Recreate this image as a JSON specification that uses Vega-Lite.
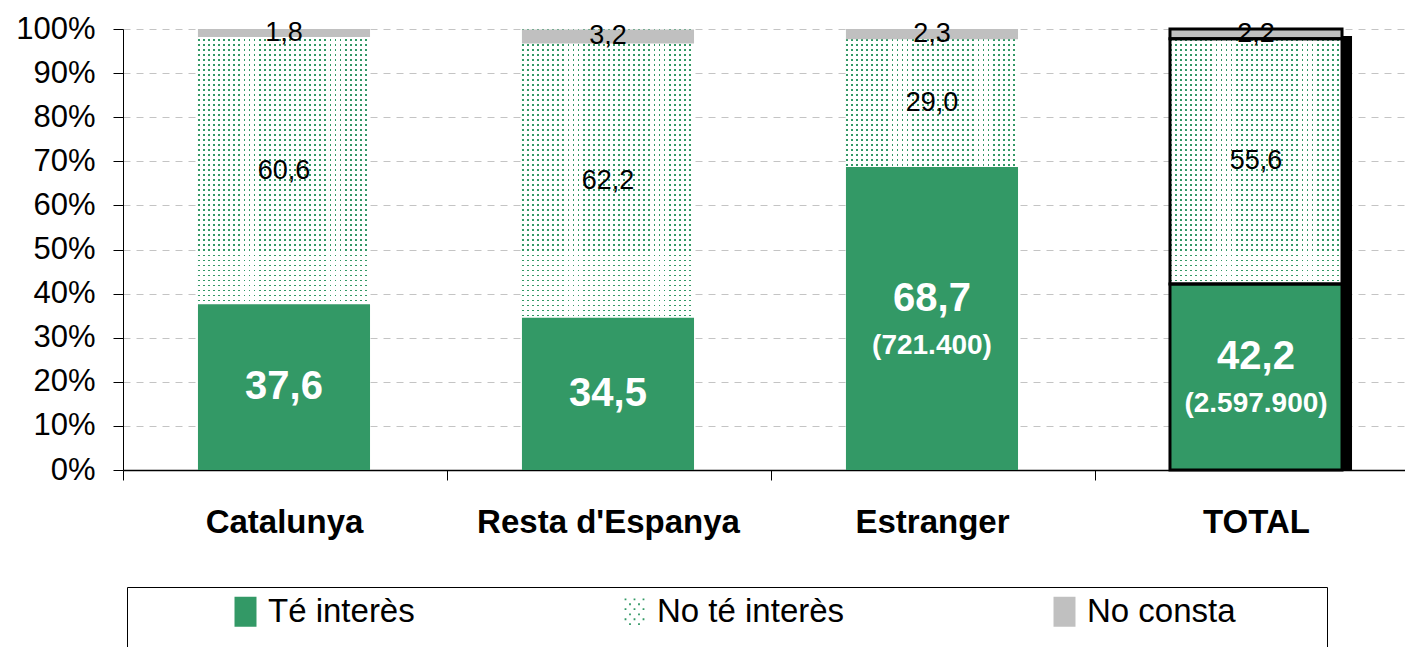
{
  "$schema": "https://vega.github.io/schema/vega-lite/v6.json",
  "width": 1282,
  "height": 441,
  "autosize": "none",
  "padding": {"left": 123, "top": 29, "right": 0, "bottom": 177},
  "background": "white",
  "config": {
    "font": "Liberation Sans",
    "view": {"stroke": null},
    "axisY": {"labelFontSize": 31, "labelColor": "black", "tickColor": "black", "tickSize": 10, "domainColor": "black", "labelPadding": 18, "grid": true, "gridColor": "#c4c4c4", "gridDash": [7, 6], "gridWidth": 1},
    "axisX": {"labelFontSize": 33, "labelFontWeight": "bold", "labelColor": "black", "labelLimit": 500, "tickColor": "black", "tickSize": 10, "domainColor": "black", "domainWidth": 1.3, "labelPadding": 26, "labelAngle": 0, "grid": false}
  },
  "data": {
    "values": [
      {"cat": "Catalunya", "serie": "Té interès", "value": 37.6, "order": 1},
      {"cat": "Catalunya", "serie": "No té interès", "value": 60.6, "order": 2},
      {"cat": "Catalunya", "serie": "No consta", "value": 1.8, "order": 3},
      {"cat": "Resta d'Espanya", "serie": "Té interès", "value": 34.5, "order": 1},
      {"cat": "Resta d'Espanya", "serie": "No té interès", "value": 62.2, "order": 2},
      {"cat": "Resta d'Espanya", "serie": "No consta", "value": 3.2, "order": 3},
      {"cat": "Estranger", "serie": "Té interès", "value": 68.7, "order": 1, "count": 721400},
      {"cat": "Estranger", "serie": "No té interès", "value": 29.0, "order": 2},
      {"cat": "Estranger", "serie": "No consta", "value": 2.3, "order": 3},
      {"cat": "TOTAL", "serie": "Té interès", "value": 42.2, "order": 1, "count": 2597900},
      {"cat": "TOTAL", "serie": "No té interès", "value": 55.6, "order": 2},
      {"cat": "TOTAL", "serie": "No consta", "value": 2.2, "order": 3}
    ]
  },
  "transform": [
    {"stack": "value", "groupby": ["cat"], "sort": [{"field": "order", "order": "ascending"}], "as": ["v0", "v1"]},
    {"calculate": "(datum.v0 + datum.v1) / 2", "as": "mid"},
    {"calculate": "replace(format(datum.value, '.1f'), '.', ',')", "as": "lbl"},
    {"calculate": "isValid(datum.count) ? '(' + replace(format(datum.count, ','), regexp(',', 'g'), '.') + ')' : ''", "as": "cnt"}
  ],
  "encoding": {
    "x": {
      "field": "cat",
      "type": "nominal",
      "sort": ["Catalunya", "Resta d'Espanya", "Estranger", "TOTAL"],
      "title": null,
      "scale": {"paddingInner": 0.469, "paddingOuter": 0.2129, "align": 0.5435},
      "axis": {"bandPosition": 0, "tickOffset": -75, "labelOffset": 75, "title": null}
    }
  },
  "layer": [
    {
      "transform": [{"filter": "datum.cat === 'TOTAL' && datum.serie === 'Té interès'"}],
      "mark": {"type": "bar", "color": "black", "xOffset": 10, "yOffset": 7},
      "encoding": {
        "y": {"datum": 100, "type": "quantitative", "title": null},
        "y2": {"datum": 0}
      }
    },
    {
      "transform": [{"filter": "datum.serie === 'No té interès'"}],
      "mark": {"type": "bar", "fill": {"gradient": "linear", "x1": 0, "y1": 0, "x2": 1, "y2": 0, "stops": [
        {"offset":0,"color":"#339966"},{"offset":0.0105,"color":"#339966"},{"offset":0.0105,"color":"#ffffff"},{"offset":0.0294,"color":"#ffffff"},
        {"offset":0.0294,"color":"#339966"},{"offset":0.0399,"color":"#339966"},{"offset":0.0399,"color":"#ffffff"},{"offset":0.0588,"color":"#ffffff"},
        {"offset":0.0588,"color":"#339966"},{"offset":0.0693,"color":"#339966"},{"offset":0.0693,"color":"#ffffff"},{"offset":0.0882,"color":"#ffffff"},
        {"offset":0.0882,"color":"#339966"},{"offset":0.0987,"color":"#339966"},{"offset":0.0987,"color":"#ffffff"},{"offset":0.1176,"color":"#ffffff"},
        {"offset":0.1176,"color":"#339966"},{"offset":0.1281,"color":"#339966"},{"offset":0.1281,"color":"#ffffff"},{"offset":0.1471,"color":"#ffffff"},
        {"offset":0.1471,"color":"#339966"},{"offset":0.1576,"color":"#339966"},{"offset":0.1576,"color":"#ffffff"},{"offset":0.1765,"color":"#ffffff"},
        {"offset":0.1765,"color":"#339966"},{"offset":0.187,"color":"#339966"},{"offset":0.187,"color":"#ffffff"},{"offset":0.2059,"color":"#ffffff"},
        {"offset":0.2059,"color":"#339966"},{"offset":0.2164,"color":"#339966"},{"offset":0.2164,"color":"#ffffff"},{"offset":0.2353,"color":"#ffffff"},
        {"offset":0.2353,"color":"#339966"},{"offset":0.2458,"color":"#339966"},{"offset":0.2458,"color":"#ffffff"},{"offset":0.2647,"color":"#ffffff"},
        {"offset":0.2647,"color":"#339966"},{"offset":0.2752,"color":"#339966"},{"offset":0.2752,"color":"#ffffff"},{"offset":0.2941,"color":"#ffffff"},
        {"offset":0.2941,"color":"#339966"},{"offset":0.3046,"color":"#339966"},{"offset":0.3046,"color":"#ffffff"},{"offset":0.3235,"color":"#ffffff"},
        {"offset":0.3235,"color":"#339966"},{"offset":0.334,"color":"#339966"},{"offset":0.334,"color":"#ffffff"},{"offset":0.3529,"color":"#ffffff"},
        {"offset":0.3529,"color":"#339966"},{"offset":0.3634,"color":"#339966"},{"offset":0.3634,"color":"#ffffff"},{"offset":0.3824,"color":"#ffffff"},
        {"offset":0.3824,"color":"#339966"},{"offset":0.3929,"color":"#339966"},{"offset":0.3929,"color":"#ffffff"},{"offset":0.4118,"color":"#ffffff"},
        {"offset":0.4118,"color":"#339966"},{"offset":0.4223,"color":"#339966"},{"offset":0.4223,"color":"#ffffff"},{"offset":0.4412,"color":"#ffffff"},
        {"offset":0.4412,"color":"#339966"},{"offset":0.4517,"color":"#339966"},{"offset":0.4517,"color":"#ffffff"},{"offset":0.4706,"color":"#ffffff"},
        {"offset":0.4706,"color":"#339966"},{"offset":0.4811,"color":"#339966"},{"offset":0.4811,"color":"#ffffff"},{"offset":0.5,"color":"#ffffff"},
        {"offset":0.5,"color":"#339966"},{"offset":0.5105,"color":"#339966"},{"offset":0.5105,"color":"#ffffff"},{"offset":0.5294,"color":"#ffffff"},
        {"offset":0.5294,"color":"#339966"},{"offset":0.5399,"color":"#339966"},{"offset":0.5399,"color":"#ffffff"},{"offset":0.5588,"color":"#ffffff"},
        {"offset":0.5588,"color":"#339966"},{"offset":0.5693,"color":"#339966"},{"offset":0.5693,"color":"#ffffff"},{"offset":0.5882,"color":"#ffffff"},
        {"offset":0.5882,"color":"#339966"},{"offset":0.5987,"color":"#339966"},{"offset":0.5987,"color":"#ffffff"},{"offset":0.6176,"color":"#ffffff"},
        {"offset":0.6176,"color":"#339966"},{"offset":0.6281,"color":"#339966"},{"offset":0.6281,"color":"#ffffff"},{"offset":0.6471,"color":"#ffffff"},
        {"offset":0.6471,"color":"#339966"},{"offset":0.6576,"color":"#339966"},{"offset":0.6576,"color":"#ffffff"},{"offset":0.6765,"color":"#ffffff"},
        {"offset":0.6765,"color":"#339966"},{"offset":0.687,"color":"#339966"},{"offset":0.687,"color":"#ffffff"},{"offset":0.7059,"color":"#ffffff"},
        {"offset":0.7059,"color":"#339966"},{"offset":0.7164,"color":"#339966"},{"offset":0.7164,"color":"#ffffff"},{"offset":0.7353,"color":"#ffffff"},
        {"offset":0.7353,"color":"#339966"},{"offset":0.7458,"color":"#339966"},{"offset":0.7458,"color":"#ffffff"},{"offset":0.7647,"color":"#ffffff"},
        {"offset":0.7647,"color":"#339966"},{"offset":0.7752,"color":"#339966"},{"offset":0.7752,"color":"#ffffff"},{"offset":0.7941,"color":"#ffffff"},
        {"offset":0.7941,"color":"#339966"},{"offset":0.8046,"color":"#339966"},{"offset":0.8046,"color":"#ffffff"},{"offset":0.8235,"color":"#ffffff"},
        {"offset":0.8235,"color":"#339966"},{"offset":0.834,"color":"#339966"},{"offset":0.834,"color":"#ffffff"},{"offset":0.8529,"color":"#ffffff"},
        {"offset":0.8529,"color":"#339966"},{"offset":0.8634,"color":"#339966"},{"offset":0.8634,"color":"#ffffff"},{"offset":0.8824,"color":"#ffffff"},
        {"offset":0.8824,"color":"#339966"},{"offset":0.8929,"color":"#339966"},{"offset":0.8929,"color":"#ffffff"},{"offset":0.9118,"color":"#ffffff"},
        {"offset":0.9118,"color":"#339966"},{"offset":0.9223,"color":"#339966"},{"offset":0.9223,"color":"#ffffff"},{"offset":0.9412,"color":"#ffffff"},
        {"offset":0.9412,"color":"#339966"},{"offset":0.9517,"color":"#339966"},{"offset":0.9517,"color":"#ffffff"},{"offset":0.9706,"color":"#ffffff"},
        {"offset":0.9706,"color":"#339966"},{"offset":0.9811,"color":"#339966"},{"offset":0.9811,"color":"#ffffff"},{"offset":1,"color":"#ffffff"}
      ]}},
      "encoding": {
        "y": {"datum": 100, "type": "quantitative", "title": null},
        "y2": {"datum": 0}
      }
    },
    {
      "transform": [{"filter": "datum.serie === 'No té interès'"}],
      "mark": {"type": "bar", "fill": {"gradient": "linear", "x1": 0, "y1": 0, "x2": 0, "y2": 1, "stops": [
        {"offset":0,"color":"rgba(255,255,255,0)"},{"offset":0.0041,"color":"rgba(255,255,255,0)"},{"offset":0.0041,"color":"#ffffff"},{"offset":0.0114,"color":"#ffffff"},
        {"offset":0.0114,"color":"rgba(255,255,255,0)"},{"offset":0.0155,"color":"rgba(255,255,255,0)"},{"offset":0.0155,"color":"#ffffff"},{"offset":0.0227,"color":"#ffffff"},
        {"offset":0.0227,"color":"rgba(255,255,255,0)"},{"offset":0.0268,"color":"rgba(255,255,255,0)"},{"offset":0.0268,"color":"#ffffff"},{"offset":0.0341,"color":"#ffffff"},
        {"offset":0.0341,"color":"rgba(255,255,255,0)"},{"offset":0.0382,"color":"rgba(255,255,255,0)"},{"offset":0.0382,"color":"#ffffff"},{"offset":0.0455,"color":"#ffffff"},
        {"offset":0.0455,"color":"rgba(255,255,255,0)"},{"offset":0.0496,"color":"rgba(255,255,255,0)"},{"offset":0.0496,"color":"#ffffff"},{"offset":0.0568,"color":"#ffffff"},
        {"offset":0.0568,"color":"rgba(255,255,255,0)"},{"offset":0.0609,"color":"rgba(255,255,255,0)"},{"offset":0.0609,"color":"#ffffff"},{"offset":0.0682,"color":"#ffffff"},
        {"offset":0.0682,"color":"rgba(255,255,255,0)"},{"offset":0.0723,"color":"rgba(255,255,255,0)"},{"offset":0.0723,"color":"#ffffff"},{"offset":0.0795,"color":"#ffffff"},
        {"offset":0.0795,"color":"rgba(255,255,255,0)"},{"offset":0.0836,"color":"rgba(255,255,255,0)"},{"offset":0.0836,"color":"#ffffff"},{"offset":0.0909,"color":"#ffffff"},
        {"offset":0.0909,"color":"rgba(255,255,255,0)"},{"offset":0.095,"color":"rgba(255,255,255,0)"},{"offset":0.095,"color":"#ffffff"},{"offset":0.1023,"color":"#ffffff"},
        {"offset":0.1023,"color":"rgba(255,255,255,0)"},{"offset":0.1064,"color":"rgba(255,255,255,0)"},{"offset":0.1064,"color":"#ffffff"},{"offset":0.1136,"color":"#ffffff"},
        {"offset":0.1136,"color":"rgba(255,255,255,0)"},{"offset":0.1177,"color":"rgba(255,255,255,0)"},{"offset":0.1177,"color":"#ffffff"},{"offset":0.125,"color":"#ffffff"},
        {"offset":0.125,"color":"rgba(255,255,255,0)"},{"offset":0.1291,"color":"rgba(255,255,255,0)"},{"offset":0.1291,"color":"#ffffff"},{"offset":0.1364,"color":"#ffffff"},
        {"offset":0.1364,"color":"rgba(255,255,255,0)"},{"offset":0.1405,"color":"rgba(255,255,255,0)"},{"offset":0.1405,"color":"#ffffff"},{"offset":0.1477,"color":"#ffffff"},
        {"offset":0.1477,"color":"rgba(255,255,255,0)"},{"offset":0.1518,"color":"rgba(255,255,255,0)"},{"offset":0.1518,"color":"#ffffff"},{"offset":0.1591,"color":"#ffffff"},
        {"offset":0.1591,"color":"rgba(255,255,255,0)"},{"offset":0.1632,"color":"rgba(255,255,255,0)"},{"offset":0.1632,"color":"#ffffff"},{"offset":0.1705,"color":"#ffffff"},
        {"offset":0.1705,"color":"rgba(255,255,255,0)"},{"offset":0.1746,"color":"rgba(255,255,255,0)"},{"offset":0.1746,"color":"#ffffff"},{"offset":0.1818,"color":"#ffffff"},
        {"offset":0.1818,"color":"rgba(255,255,255,0)"},{"offset":0.1859,"color":"rgba(255,255,255,0)"},{"offset":0.1859,"color":"#ffffff"},{"offset":0.1932,"color":"#ffffff"},
        {"offset":0.1932,"color":"rgba(255,255,255,0)"},{"offset":0.1973,"color":"rgba(255,255,255,0)"},{"offset":0.1973,"color":"#ffffff"},{"offset":0.2045,"color":"#ffffff"},
        {"offset":0.2045,"color":"rgba(255,255,255,0)"},{"offset":0.2086,"color":"rgba(255,255,255,0)"},{"offset":0.2086,"color":"#ffffff"},{"offset":0.2159,"color":"#ffffff"},
        {"offset":0.2159,"color":"rgba(255,255,255,0)"},{"offset":0.22,"color":"rgba(255,255,255,0)"},{"offset":0.22,"color":"#ffffff"},{"offset":0.2273,"color":"#ffffff"},
        {"offset":0.2273,"color":"rgba(255,255,255,0)"},{"offset":0.2314,"color":"rgba(255,255,255,0)"},{"offset":0.2314,"color":"#ffffff"},{"offset":0.2386,"color":"#ffffff"},
        {"offset":0.2386,"color":"rgba(255,255,255,0)"},{"offset":0.2427,"color":"rgba(255,255,255,0)"},{"offset":0.2427,"color":"#ffffff"},{"offset":0.25,"color":"#ffffff"},
        {"offset":0.25,"color":"rgba(255,255,255,0)"},{"offset":0.2541,"color":"rgba(255,255,255,0)"},{"offset":0.2541,"color":"#ffffff"},{"offset":0.2614,"color":"#ffffff"},
        {"offset":0.2614,"color":"rgba(255,255,255,0)"},{"offset":0.2655,"color":"rgba(255,255,255,0)"},{"offset":0.2655,"color":"#ffffff"},{"offset":0.2727,"color":"#ffffff"},
        {"offset":0.2727,"color":"rgba(255,255,255,0)"},{"offset":0.2768,"color":"rgba(255,255,255,0)"},{"offset":0.2768,"color":"#ffffff"},{"offset":0.2841,"color":"#ffffff"},
        {"offset":0.2841,"color":"rgba(255,255,255,0)"},{"offset":0.2882,"color":"rgba(255,255,255,0)"},{"offset":0.2882,"color":"#ffffff"},{"offset":0.2955,"color":"#ffffff"},
        {"offset":0.2955,"color":"rgba(255,255,255,0)"},{"offset":0.2996,"color":"rgba(255,255,255,0)"},{"offset":0.2996,"color":"#ffffff"},{"offset":0.3068,"color":"#ffffff"},
        {"offset":0.3068,"color":"rgba(255,255,255,0)"},{"offset":0.3109,"color":"rgba(255,255,255,0)"},{"offset":0.3109,"color":"#ffffff"},{"offset":0.3182,"color":"#ffffff"},
        {"offset":0.3182,"color":"rgba(255,255,255,0)"},{"offset":0.3223,"color":"rgba(255,255,255,0)"},{"offset":0.3223,"color":"#ffffff"},{"offset":0.3295,"color":"#ffffff"},
        {"offset":0.3295,"color":"rgba(255,255,255,0)"},{"offset":0.3336,"color":"rgba(255,255,255,0)"},{"offset":0.3336,"color":"#ffffff"},{"offset":0.3409,"color":"#ffffff"},
        {"offset":0.3409,"color":"rgba(255,255,255,0)"},{"offset":0.345,"color":"rgba(255,255,255,0)"},{"offset":0.345,"color":"#ffffff"},{"offset":0.3523,"color":"#ffffff"},
        {"offset":0.3523,"color":"rgba(255,255,255,0)"},{"offset":0.3564,"color":"rgba(255,255,255,0)"},{"offset":0.3564,"color":"#ffffff"},{"offset":0.3636,"color":"#ffffff"},
        {"offset":0.3636,"color":"rgba(255,255,255,0)"},{"offset":0.3677,"color":"rgba(255,255,255,0)"},{"offset":0.3677,"color":"#ffffff"},{"offset":0.375,"color":"#ffffff"},
        {"offset":0.375,"color":"rgba(255,255,255,0)"},{"offset":0.3791,"color":"rgba(255,255,255,0)"},{"offset":0.3791,"color":"#ffffff"},{"offset":0.3864,"color":"#ffffff"},
        {"offset":0.3864,"color":"rgba(255,255,255,0)"},{"offset":0.3905,"color":"rgba(255,255,255,0)"},{"offset":0.3905,"color":"#ffffff"},{"offset":0.3977,"color":"#ffffff"},
        {"offset":0.3977,"color":"rgba(255,255,255,0)"},{"offset":0.4018,"color":"rgba(255,255,255,0)"},{"offset":0.4018,"color":"#ffffff"},{"offset":0.4091,"color":"#ffffff"},
        {"offset":0.4091,"color":"rgba(255,255,255,0)"},{"offset":0.4132,"color":"rgba(255,255,255,0)"},{"offset":0.4132,"color":"#ffffff"},{"offset":0.4205,"color":"#ffffff"},
        {"offset":0.4205,"color":"rgba(255,255,255,0)"},{"offset":0.4246,"color":"rgba(255,255,255,0)"},{"offset":0.4246,"color":"#ffffff"},{"offset":0.4318,"color":"#ffffff"},
        {"offset":0.4318,"color":"rgba(255,255,255,0)"},{"offset":0.4359,"color":"rgba(255,255,255,0)"},{"offset":0.4359,"color":"#ffffff"},{"offset":0.4432,"color":"#ffffff"},
        {"offset":0.4432,"color":"rgba(255,255,255,0)"},{"offset":0.4473,"color":"rgba(255,255,255,0)"},{"offset":0.4473,"color":"#ffffff"},{"offset":0.4545,"color":"#ffffff"},
        {"offset":0.4545,"color":"rgba(255,255,255,0)"},{"offset":0.4586,"color":"rgba(255,255,255,0)"},{"offset":0.4586,"color":"#ffffff"},{"offset":0.4659,"color":"#ffffff"},
        {"offset":0.4659,"color":"rgba(255,255,255,0)"},{"offset":0.47,"color":"rgba(255,255,255,0)"},{"offset":0.47,"color":"#ffffff"},{"offset":0.4773,"color":"#ffffff"},
        {"offset":0.4773,"color":"rgba(255,255,255,0)"},{"offset":0.4814,"color":"rgba(255,255,255,0)"},{"offset":0.4814,"color":"#ffffff"},{"offset":0.4886,"color":"#ffffff"},
        {"offset":0.4886,"color":"rgba(255,255,255,0)"},{"offset":0.4927,"color":"rgba(255,255,255,0)"},{"offset":0.4927,"color":"#ffffff"},{"offset":0.5,"color":"#ffffff"},
        {"offset":0.5,"color":"rgba(255,255,255,0)"},{"offset":0.5041,"color":"rgba(255,255,255,0)"},{"offset":0.5041,"color":"#ffffff"},{"offset":0.5114,"color":"#ffffff"},
        {"offset":0.5114,"color":"rgba(255,255,255,0)"},{"offset":0.5155,"color":"rgba(255,255,255,0)"},{"offset":0.5155,"color":"#ffffff"},{"offset":0.5227,"color":"#ffffff"},
        {"offset":0.5227,"color":"rgba(255,255,255,0)"},{"offset":0.5268,"color":"rgba(255,255,255,0)"},{"offset":0.5268,"color":"#ffffff"},{"offset":0.5341,"color":"#ffffff"},
        {"offset":0.5341,"color":"rgba(255,255,255,0)"},{"offset":0.5382,"color":"rgba(255,255,255,0)"},{"offset":0.5382,"color":"#ffffff"},{"offset":0.5455,"color":"#ffffff"},
        {"offset":0.5455,"color":"rgba(255,255,255,0)"},{"offset":0.5496,"color":"rgba(255,255,255,0)"},{"offset":0.5496,"color":"#ffffff"},{"offset":0.5568,"color":"#ffffff"},
        {"offset":0.5568,"color":"rgba(255,255,255,0)"},{"offset":0.5609,"color":"rgba(255,255,255,0)"},{"offset":0.5609,"color":"#ffffff"},{"offset":0.5682,"color":"#ffffff"},
        {"offset":0.5682,"color":"rgba(255,255,255,0)"},{"offset":0.5723,"color":"rgba(255,255,255,0)"},{"offset":0.5723,"color":"#ffffff"},{"offset":0.5795,"color":"#ffffff"},
        {"offset":0.5795,"color":"rgba(255,255,255,0)"},{"offset":0.5836,"color":"rgba(255,255,255,0)"},{"offset":0.5836,"color":"#ffffff"},{"offset":0.5909,"color":"#ffffff"},
        {"offset":0.5909,"color":"rgba(255,255,255,0)"},{"offset":0.595,"color":"rgba(255,255,255,0)"},{"offset":0.595,"color":"#ffffff"},{"offset":0.6023,"color":"#ffffff"},
        {"offset":0.6023,"color":"rgba(255,255,255,0)"},{"offset":0.6064,"color":"rgba(255,255,255,0)"},{"offset":0.6064,"color":"#ffffff"},{"offset":0.6136,"color":"#ffffff"},
        {"offset":0.6136,"color":"rgba(255,255,255,0)"},{"offset":0.6177,"color":"rgba(255,255,255,0)"},{"offset":0.6177,"color":"#ffffff"},{"offset":0.625,"color":"#ffffff"},
        {"offset":0.625,"color":"rgba(255,255,255,0)"},{"offset":0.6291,"color":"rgba(255,255,255,0)"},{"offset":0.6291,"color":"#ffffff"},{"offset":0.6364,"color":"#ffffff"},
        {"offset":0.6364,"color":"rgba(255,255,255,0)"},{"offset":0.6405,"color":"rgba(255,255,255,0)"},{"offset":0.6405,"color":"#ffffff"},{"offset":0.6477,"color":"#ffffff"},
        {"offset":0.6477,"color":"rgba(255,255,255,0)"},{"offset":0.6518,"color":"rgba(255,255,255,0)"},{"offset":0.6518,"color":"#ffffff"},{"offset":0.6591,"color":"#ffffff"},
        {"offset":0.6591,"color":"rgba(255,255,255,0)"},{"offset":0.6632,"color":"rgba(255,255,255,0)"},{"offset":0.6632,"color":"#ffffff"},{"offset":0.6705,"color":"#ffffff"},
        {"offset":0.6705,"color":"rgba(255,255,255,0)"},{"offset":0.6746,"color":"rgba(255,255,255,0)"},{"offset":0.6746,"color":"#ffffff"},{"offset":0.6818,"color":"#ffffff"},
        {"offset":0.6818,"color":"rgba(255,255,255,0)"},{"offset":0.6859,"color":"rgba(255,255,255,0)"},{"offset":0.6859,"color":"#ffffff"},{"offset":0.6932,"color":"#ffffff"},
        {"offset":0.6932,"color":"rgba(255,255,255,0)"},{"offset":0.6973,"color":"rgba(255,255,255,0)"},{"offset":0.6973,"color":"#ffffff"},{"offset":0.7045,"color":"#ffffff"},
        {"offset":0.7045,"color":"rgba(255,255,255,0)"},{"offset":0.7086,"color":"rgba(255,255,255,0)"},{"offset":0.7086,"color":"#ffffff"},{"offset":0.7159,"color":"#ffffff"},
        {"offset":0.7159,"color":"rgba(255,255,255,0)"},{"offset":0.72,"color":"rgba(255,255,255,0)"},{"offset":0.72,"color":"#ffffff"},{"offset":0.7273,"color":"#ffffff"},
        {"offset":0.7273,"color":"rgba(255,255,255,0)"},{"offset":0.7314,"color":"rgba(255,255,255,0)"},{"offset":0.7314,"color":"#ffffff"},{"offset":0.7386,"color":"#ffffff"},
        {"offset":0.7386,"color":"rgba(255,255,255,0)"},{"offset":0.7427,"color":"rgba(255,255,255,0)"},{"offset":0.7427,"color":"#ffffff"},{"offset":0.75,"color":"#ffffff"},
        {"offset":0.75,"color":"rgba(255,255,255,0)"},{"offset":0.7541,"color":"rgba(255,255,255,0)"},{"offset":0.7541,"color":"#ffffff"},{"offset":0.7614,"color":"#ffffff"},
        {"offset":0.7614,"color":"rgba(255,255,255,0)"},{"offset":0.7655,"color":"rgba(255,255,255,0)"},{"offset":0.7655,"color":"#ffffff"},{"offset":0.7727,"color":"#ffffff"},
        {"offset":0.7727,"color":"rgba(255,255,255,0)"},{"offset":0.7768,"color":"rgba(255,255,255,0)"},{"offset":0.7768,"color":"#ffffff"},{"offset":0.7841,"color":"#ffffff"},
        {"offset":0.7841,"color":"rgba(255,255,255,0)"},{"offset":0.7882,"color":"rgba(255,255,255,0)"},{"offset":0.7882,"color":"#ffffff"},{"offset":0.7955,"color":"#ffffff"},
        {"offset":0.7955,"color":"rgba(255,255,255,0)"},{"offset":0.7996,"color":"rgba(255,255,255,0)"},{"offset":0.7996,"color":"#ffffff"},{"offset":0.8068,"color":"#ffffff"},
        {"offset":0.8068,"color":"rgba(255,255,255,0)"},{"offset":0.8109,"color":"rgba(255,255,255,0)"},{"offset":0.8109,"color":"#ffffff"},{"offset":0.8182,"color":"#ffffff"},
        {"offset":0.8182,"color":"rgba(255,255,255,0)"},{"offset":0.8223,"color":"rgba(255,255,255,0)"},{"offset":0.8223,"color":"#ffffff"},{"offset":0.8295,"color":"#ffffff"},
        {"offset":0.8295,"color":"rgba(255,255,255,0)"},{"offset":0.8336,"color":"rgba(255,255,255,0)"},{"offset":0.8336,"color":"#ffffff"},{"offset":0.8409,"color":"#ffffff"},
        {"offset":0.8409,"color":"rgba(255,255,255,0)"},{"offset":0.845,"color":"rgba(255,255,255,0)"},{"offset":0.845,"color":"#ffffff"},{"offset":0.8523,"color":"#ffffff"},
        {"offset":0.8523,"color":"rgba(255,255,255,0)"},{"offset":0.8564,"color":"rgba(255,255,255,0)"},{"offset":0.8564,"color":"#ffffff"},{"offset":0.8636,"color":"#ffffff"},
        {"offset":0.8636,"color":"rgba(255,255,255,0)"},{"offset":0.8677,"color":"rgba(255,255,255,0)"},{"offset":0.8677,"color":"#ffffff"},{"offset":0.875,"color":"#ffffff"},
        {"offset":0.875,"color":"rgba(255,255,255,0)"},{"offset":0.8791,"color":"rgba(255,255,255,0)"},{"offset":0.8791,"color":"#ffffff"},{"offset":0.8864,"color":"#ffffff"},
        {"offset":0.8864,"color":"rgba(255,255,255,0)"},{"offset":0.8905,"color":"rgba(255,255,255,0)"},{"offset":0.8905,"color":"#ffffff"},{"offset":0.8977,"color":"#ffffff"},
        {"offset":0.8977,"color":"rgba(255,255,255,0)"},{"offset":0.9018,"color":"rgba(255,255,255,0)"},{"offset":0.9018,"color":"#ffffff"},{"offset":0.9091,"color":"#ffffff"},
        {"offset":0.9091,"color":"rgba(255,255,255,0)"},{"offset":0.9132,"color":"rgba(255,255,255,0)"},{"offset":0.9132,"color":"#ffffff"},{"offset":0.9205,"color":"#ffffff"},
        {"offset":0.9205,"color":"rgba(255,255,255,0)"},{"offset":0.9246,"color":"rgba(255,255,255,0)"},{"offset":0.9246,"color":"#ffffff"},{"offset":0.9318,"color":"#ffffff"},
        {"offset":0.9318,"color":"rgba(255,255,255,0)"},{"offset":0.9359,"color":"rgba(255,255,255,0)"},{"offset":0.9359,"color":"#ffffff"},{"offset":0.9432,"color":"#ffffff"},
        {"offset":0.9432,"color":"rgba(255,255,255,0)"},{"offset":0.9473,"color":"rgba(255,255,255,0)"},{"offset":0.9473,"color":"#ffffff"},{"offset":0.9545,"color":"#ffffff"},
        {"offset":0.9545,"color":"rgba(255,255,255,0)"},{"offset":0.9586,"color":"rgba(255,255,255,0)"},{"offset":0.9586,"color":"#ffffff"},{"offset":0.9659,"color":"#ffffff"},
        {"offset":0.9659,"color":"rgba(255,255,255,0)"},{"offset":0.97,"color":"rgba(255,255,255,0)"},{"offset":0.97,"color":"#ffffff"},{"offset":0.9773,"color":"#ffffff"},
        {"offset":0.9773,"color":"rgba(255,255,255,0)"},{"offset":0.9814,"color":"rgba(255,255,255,0)"},{"offset":0.9814,"color":"#ffffff"},{"offset":0.9886,"color":"#ffffff"},
        {"offset":0.9886,"color":"rgba(255,255,255,0)"},{"offset":0.9927,"color":"rgba(255,255,255,0)"},{"offset":0.9927,"color":"#ffffff"},{"offset":1,"color":"#ffffff"}
      ]}},
      "encoding": {
        "y": {"datum": 100, "type": "quantitative", "title": null},
        "y2": {"datum": 0}
      }
    },
    {
      "transform": [{"filter": "datum.serie !== 'No té interès'"}],
      "mark": {"type": "bar"},
      "encoding": {
        "y": {
          "field": "v1",
          "type": "quantitative",
          "title": null,
          "scale": {"domain": [0, 100], "nice": false},
          "axis": {"values": [0, 10, 20, 30, 40, 50, 60, 70, 80, 90, 100], "labelExpr": "datum.value + '%'", "title": null}
        },
        "y2": {"field": "v0"},
        "color": {
          "field": "serie",
          "type": "nominal",
          "scale": {"domain": ["Té interès", "No té interès", "No consta"], "range": ["#339966", "#339966", "#c0c0c0"]},
          "legend": {
            "orient": "none", "legendX": 4, "legendY": 558, "direction": "horizontal",
            "title": " ", "titleOrient": "bottom", "titleFontSize": 28, "titlePadding": 2,
            "padding": 8, "fillColor": "white", "strokeColor": "black",
            "symbolSize": 900, "symbolOffset": 94, "symbolOpacity": 1, "symbolStrokeWidth": 0,
            "labelOffset": 6, "columnPadding": 109, "labelFontSize": 33, "labelColor": "black", "labelLimit": 500,
            "labelExpr": "datum.label === 'No consta' ? datum.label + '\u00a0\u00a0\u00a0\u00a0\u00a0\u00a0\u00a0\u00a0\u00a0\u200b' : datum.label"
          }
        }
      }
    },
    {
      "transform": [{"filter": "datum.cat === 'TOTAL'"}],
      "mark": {"type": "bar", "fill": "white", "fillOpacity": 0, "stroke": "black", "strokeWidth": 3},
      "encoding": {
        "y": {"field": "v1", "type": "quantitative", "title": null},
        "y2": {"field": "v0"}
      }
    },
    {
      "transform": [{"filter": "datum.serie !== 'Té interès'"}],
      "mark": {"type": "text", "fontSize": 27, "color": "black", "baseline": "middle"},
      "encoding": {
        "y": {"field": "mid", "type": "quantitative", "title": null},
        "text": {"field": "lbl"}
      }
    },
    {
      "transform": [{"filter": "datum.serie === 'Té interès' && !isValid(datum.count)"}],
      "mark": {"type": "text", "fontSize": 40, "fontWeight": "bold", "color": "white", "baseline": "middle"},
      "encoding": {
        "y": {"field": "mid", "type": "quantitative", "title": null},
        "text": {"field": "lbl"}
      }
    },
    {
      "transform": [{"filter": "datum.serie === 'Té interès' && isValid(datum.count)"}],
      "mark": {"type": "text", "fontSize": 40, "fontWeight": "bold", "color": "white", "baseline": "middle", "dy": -20},
      "encoding": {
        "y": {"field": "mid", "type": "quantitative", "title": null},
        "text": {"field": "lbl"}
      }
    },
    {
      "transform": [{"filter": "datum.serie === 'Té interès' && isValid(datum.count)"}],
      "mark": {"type": "text", "fontSize": 28, "fontWeight": "bold", "color": "white", "baseline": "middle", "dy": 27},
      "encoding": {
        "y": {"field": "mid", "type": "quantitative", "title": null},
        "text": {"field": "cnt"}
      }
    },
    {
      "mark": {"type": "point", "filled": true, "opacity": 0},
      "encoding": {
        "y": {"field": "mid", "type": "quantitative", "title": null},
        "color": {
          "field": "serie",
          "type": "nominal",
          "legend": {
            "orient": "none", "legendX": 4, "legendY": 558, "direction": "horizontal",
            "title": " ", "titleOrient": "bottom", "titleFontSize": 28, "titlePadding": 2,
            "padding": 8, "fillColor": "white", "strokeColor": "black",
            "symbolSize": 900, "symbolOffset": 94, "symbolOpacity": 1, "symbolStrokeWidth": 0,
            "labelOffset": 6, "columnPadding": 109, "labelFontSize": 33, "labelColor": "black", "labelLimit": 500,
            "labelExpr": "datum.label === 'No consta' ? datum.label + '\u00a0\u00a0\u00a0\u00a0\u00a0\u00a0\u00a0\u00a0\u00a0\u200b' : datum.label"
          }
        },
        "shape": {
          "field": "serie",
          "type": "nominal",
          "scale": {"domain": ["Té interès", "No té interès", "No consta"], "range": [
            "M-0.733,-1H0.733V1H-0.733Z",
            "M-0.66,-0.89h0.12v0.12h-0.12zM-0.06,-0.89h0.12v0.12h-0.12zM0.54,-0.89h0.12v0.12h-0.12zM-0.36,-0.56h0.12v0.12h-0.12zM0.24,-0.56h0.12v0.12h-0.12zM-0.66,-0.23h0.12v0.12h-0.12zM-0.06,-0.23h0.12v0.12h-0.12zM0.54,-0.23h0.12v0.12h-0.12zM-0.36,0.11h0.12v0.12h-0.12zM0.24,0.11h0.12v0.12h-0.12zM-0.66,0.44h0.12v0.12h-0.12zM-0.06,0.44h0.12v0.12h-0.12zM0.54,0.44h0.12v0.12h-0.12zM-0.36,0.77h0.12v0.12h-0.12zM0.24,0.77h0.12v0.12h-0.12z",
            "M-0.733,-1H0.733V1H-0.733Z"
          ]},
          "legend": {
            "orient": "none", "legendX": 4, "legendY": 558, "direction": "horizontal",
            "title": " ", "titleOrient": "bottom", "titleFontSize": 28, "titlePadding": 2,
            "padding": 8, "fillColor": "white", "strokeColor": "black",
            "symbolSize": 900, "symbolOffset": 94, "symbolOpacity": 1, "symbolStrokeWidth": 0,
            "labelOffset": 6, "columnPadding": 109, "labelFontSize": 33, "labelColor": "black", "labelLimit": 500,
            "labelExpr": "datum.label === 'No consta' ? datum.label + '\u00a0\u00a0\u00a0\u00a0\u00a0\u00a0\u00a0\u00a0\u00a0\u200b' : datum.label"
          }
        }
      }
    }
  ]
}
